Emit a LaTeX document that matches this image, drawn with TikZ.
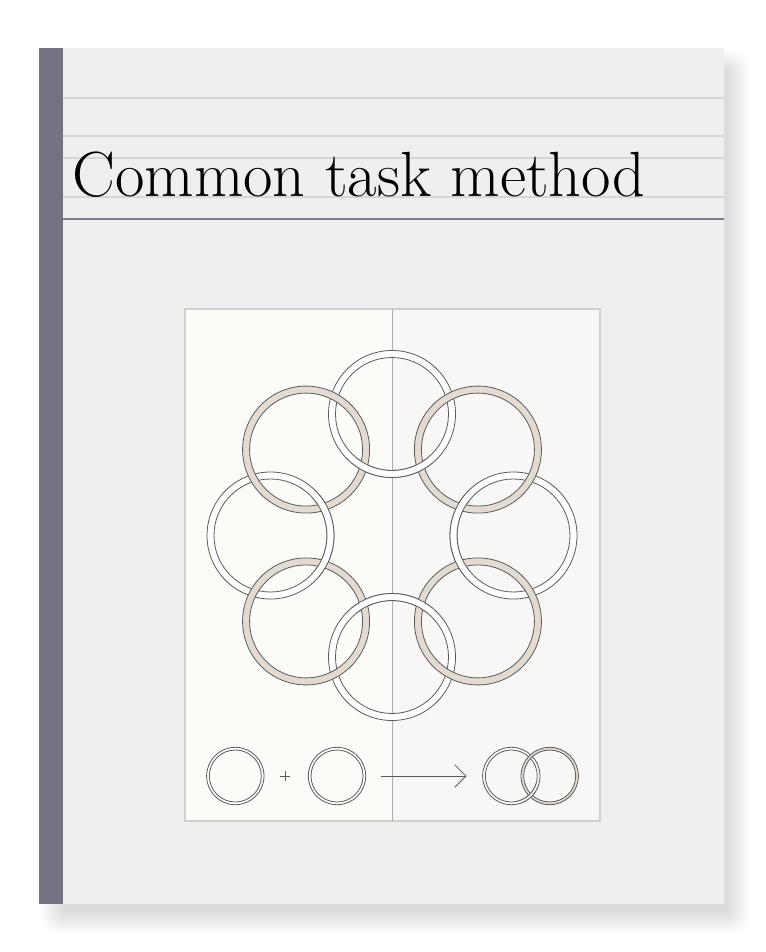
\documentclass[tikz,border=0pt]{standalone}
\usepackage{graphicx}
\usepackage{tikz}
\usetikzlibrary{calc, arrows.meta}
\definecolor{coverbg}{HTML}{EFEFEF}
\definecolor{spine}{HTML}{737384}
\definecolor{guide}{HTML}{D6D6D6}
\definecolor{rule}{HTML}{7E7D90}
\definecolor{leftpage}{HTML}{FBFBF7}
\definecolor{rightpage}{HTML}{F8F7F5}
\definecolor{frame}{HTML}{D0D0D0}
\definecolor{ringgray}{HTML}{5A5A5A}
\definecolor{tan}{HTML}{E3DBD2}
\tikzset{
  ringline/.style = {draw=ringgray, line width=.6pt},
  whiteband/.style = {ringline, fill=white, even odd rule},
  tanband/.style = {ringline, fill=tan, even odd rule},
}

\begin{document}
\begin{tikzpicture}[x=.75pt, y=.75pt]
\useasboundingbox (0, 0) rectangle (765, -952);
% soft shadow of the cover
\foreach \i in {0,...,11}
  \fill [black, opacity=.011, rounded corners=\i*1.5pt] (63-\i*2, -72+\i*2) rectangle (728+\i*2, -912-\i*2);
\fill [coverbg] (39, -48) rectangle (724, -904);
\fill [spine] (39, -48) rectangle (63, -904);
\foreach \y in {98, 136, 158, 197}
  \draw [guide, line width=1.1pt] (63, -\y) -- (724, -\y);
\draw [rule, line width=1.2pt] (63, -219) -- (724, -219);
\node at (72, -197) [name=title, anchor=base west, inner sep=0] {\resizebox{430pt}{33.5pt}{\fontsize{48}{50}\selectfont Common task method}};
% the plate
\fill [leftpage] (185, -309) rectangle (392, -821);
\fill [rightpage] (392, -309) rectangle (600, -821);
\draw [frame, line width=.8pt] (185, -309) rectangle (600, -821);
\draw [black!32, line width=.7pt] (392, -309) -- (392, -821);
\coordinate (hub) at (392, -535.5);
\foreach \a in {0, 90, 180, 270} {
  \coordinate (white\a) at ($(hub)+(\a:121.5)$);
  \path [whiteband] (white\a) circle (63.5) circle (56.5);
}
\foreach \a in {45, 135, 225, 315}
  \path [tanband] ($(hub)+(\a:121.5)$) circle (63.5) circle (56.5);
% white ring passes over on the inner side
\foreach \a in {0, 90, 180, 270} {
  \fill [white] ($(white\a)+(\a+140:63.5)$) arc (\a+140:\a+220:63.5) -- ($(white\a)+(\a+220:56.5)$) arc (\a+220:\a+140:56.5) -- cycle;
  \draw [ringline] ($(white\a)+(\a+140:63.5)$) arc (\a+140:\a+220:63.5);
  \draw [ringline] ($(white\a)+(\a+140:56.5)$) arc (\a+140:\a+220:56.5);
}
% bottom row
\coordinate (lone) at (235.3, -776);
\coordinate (ltwo) at (337, -776);
\coordinate (plus) at (285, -776);
\coordinate (from) at (381, -776);
\coordinate (to) at (466.5, -776);
\coordinate (pairw) at (511.3, -776);
\coordinate (pairt) at (549.7, -776);
\path [whiteband] (lone) circle (28.7) circle (26);
\path [whiteband] (ltwo) circle (28.7) circle (26);
\draw [ringline] ($(plus)+(-5.3,0)$) -- ++(10.6,0) ($(plus)+(0,5.3)$) -- ++(0,-10.6);
\draw [ringline, -{Straight Barb[length=8.5pt, width=17pt]}] (from) -- (to);
\path [whiteband] (pairw) circle (28.7) circle (26);
\path [tanband] (pairt) circle (28.7) circle (26);
\fill [white] ($(pairw)+(-15:28.7)$) arc (-15:-75:28.7) -- ($(pairw)+(-75:26)$) arc (-75:-15:26) -- cycle;
\draw [ringline] ($(pairw)+(-15:28.7)$) arc (-15:-75:28.7);
\draw [ringline] ($(pairw)+(-15:26)$) arc (-15:-75:26);
\end{tikzpicture}
\end{document}
